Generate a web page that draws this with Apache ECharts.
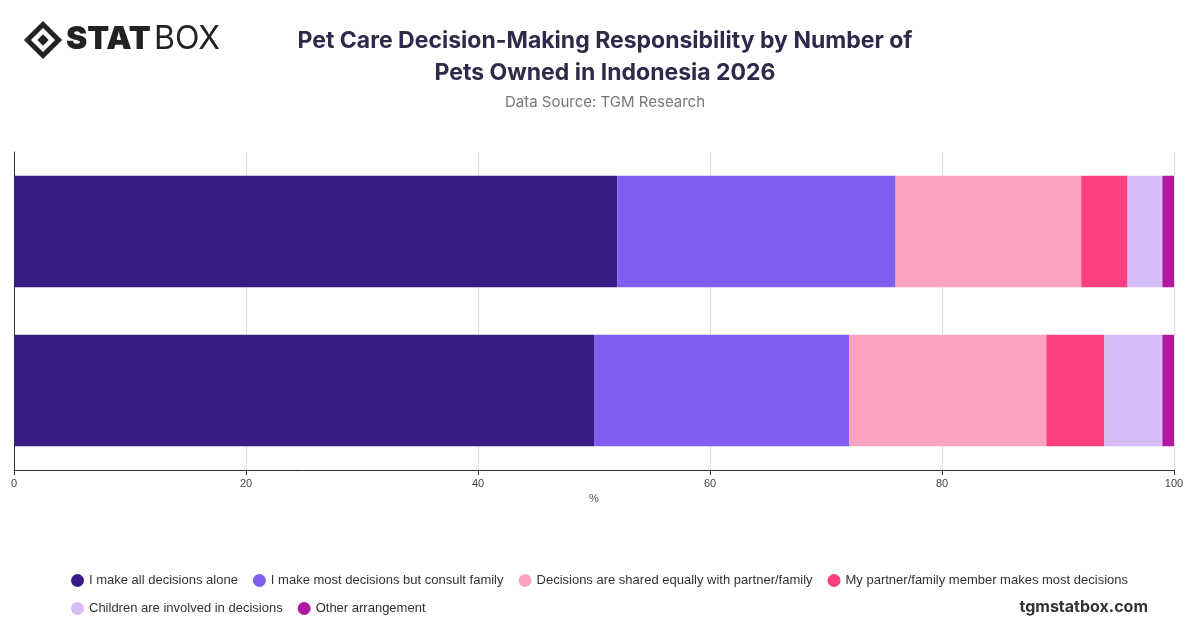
<!DOCTYPE html>
<html><head><meta charset="utf-8">
<script src="https://cdn.jsdelivr.net/npm/echarts@6/dist/echarts.min.js"></script>
<style>body{margin:0}#c{width:1200px;height:628px}</style></head>
<body><div id="c"></div>
<script>
const categories = ['2+ pets', '1 pet'];
const seriesNames = ['I make all decisions alone','I make most decisions but consult family','Decisions are shared equally with partner/family','My partner/family member makes most decisions','Children are involved in decisions','Other arrangement'];
const alone = [50, 52];
const consult = [22, 24];
const shared = [17, 16];
const partner = [5, 4];
const children = [5, 3];
const other = [1, 1];
const colors = ['#371c84','#7f5ef0','#fca3c3','#fe3f80','#d6bdf8','#b0189f'];
const values = [alone, consult, shared, partner, children, other];
const chart = echarts.init(document.getElementById('c'));
chart.setOption({
  animation:false,
  textStyle:{fontFamily:'Liberation Sans, Arial, sans-serif'},
  title:{text:'Pet Care Decision-Making Responsibility by Number of\nPets Owned in Indonesia 2026',subtext:'Data Source: TGM Research',left:600,top:20,textAlign:'center',
    textStyle:{fontSize:23,fontWeight:'bold',color:'#2e2b4a',lineHeight:32,fontFamily:'Inter, sans-serif'},subtextStyle:{fontSize:15,color:'#777',fontFamily:'Inter, sans-serif'},itemGap:6},
  graphic:[
    {type:'rect',shape:{x:-11,y:-11,width:22,height:22},rotation:Math.PI/4,x:43,y:40,style:{fill:'none',stroke:'#222',lineWidth:5}},
    {type:'rect',shape:{x:-4,y:-4,width:8,height:8},rotation:Math.PI/4,x:43,y:40,style:{fill:'#222'}},
    {type:'text',left:66,top:23,style:{text:'STAT',font:'900 32px Inter, sans-serif',fill:'#222'}},
    {type:'text',left:154,top:23,style:{text:'BOX',font:'32px Inter, sans-serif',fill:'#222'}},
    {type:'text',right:52,bottom:13,style:{text:'tgmstatbox.com',font:'bold 16px Inter, sans-serif',fill:'#333'}}
  ],
  legend:{left:66,bottom:8,width:1120,icon:'circle',itemWidth:13,itemHeight:13,itemGap:15,textStyle:{fontSize:13,color:'#333'}},
  grid:{left:14,right:26,top:152,bottom:158},
  xAxis:{type:'value',min:0,max:100,interval:20,name:'%',nameLocation:'middle',nameGap:22,nameTextStyle:{color:'#555',fontSize:11},
    axisLabel:{color:'#444',fontSize:11},splitLine:{lineStyle:{color:'#ddd'}},axisLine:{show:true,lineStyle:{color:'#333'}},axisTick:{show:true}},
  yAxis:{type:'category',data:categories,axisLabel:{show:false},axisTick:{show:false},axisLine:{lineStyle:{color:'#333'}}},
  series: seriesNames.map((n,i)=>({name:n,type:'bar',stack:'a',data:values[i],barWidth:'70%',itemStyle:{color:colors[i]}}))
});
</script></body></html>
